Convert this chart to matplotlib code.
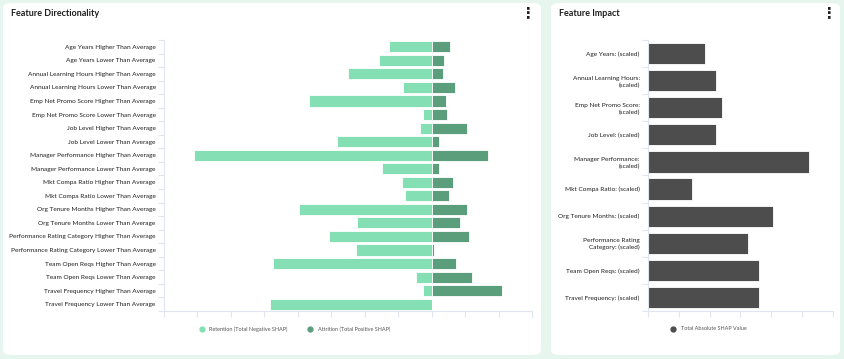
"""
Feature Directionality / Feature Impact dashboard cards.
"""

import matplotlib
matplotlib.use("Agg")
import matplotlib.pyplot as plt
import numpy as np
from matplotlib.lines import Line2D
from matplotlib.patches import FancyBboxPatch

plt.rcParams["font.family"] = ["Lato", "DejaVu Sans"]

# Left card: per-direction SHAP totals
DIR_LABELS = [
    "Age Years Higher Than Average",
    "Age Years Lower Than Average",
    "Annual Learning Hours Higher Than Average",
    "Annual Learning Hours Lower Than Average",
    "Emp Net Promo Score Higher Than Average",
    "Emp Net Promo Score Lower Than Average",
    "Job Level Higher Than Average",
    "Job Level Lower Than Average",
    "Manager Performance Higher Than Average",
    "Manager Performance Lower Than Average",
    "Mkt Compa Ratio Higher Than Average",
    "Mkt Compa Ratio Lower Than Average",
    "Org Tenure Months Higher Than Average",
    "Org Tenure Months Lower Than Average",
    "Performance Rating Category Higher Than Average",
    "Performance Rating Category Lower Than Average",
    "Team Open Reqs Higher Than Average",
    "Team Open Reqs Lower Than Average",
    "Travel Frequency Higher Than Average",
    "Travel Frequency Lower Than Average",
]
RETENTION = [-1.26, -1.57, -2.51, -0.85, -3.68, -0.25, -0.34, -2.83, -7.09, -1.47,
             -0.88, -0.81, -3.95, -2.23, -3.07, -2.25, -4.75, -0.47, -0.25, -4.82]
ATTRITION = [0.54, 0.36, 0.33, 0.70, 0.42, 0.47, 1.07, 0.21, 1.68, 0.21,
             0.64, 0.52, 1.06, 0.86, 1.13, 0.07, 0.74, 1.21, 2.10, 0.02]

# Right card: total absolute SHAP per feature
IMPACT_LABELS = [
    "Age Years: (scaled)",
    "Annual Learning Hours:\n(scaled)",
    "Emp Net Promo Score:\n(scaled)",
    "Job Level: (scaled)",
    "Manager Performance:\n(scaled)",
    "Mkt Compa Ratio: (scaled)",
    "Org Tenure Months: (scaled)",
    "Performance Rating\nCategory: (scaled)",
    "Team Open Reqs: (scaled)",
    "Travel Frequency: (scaled)",
]
IMPACT = [1.86, 2.20, 2.41, 2.22, 5.22, 1.43, 4.04, 3.25, 3.59, 3.59]

BG = "#E6F6EF"
AXIS_C = "#E1E5F2"
TEXT_C = "#1F1F1F"
RET_C = "#84E0B4"
ATT_C = "#5A9E7C"
IMP_C = "#4D4D4D"

W, H = 845, 359


def px_box(x0, y0, x1, y1):
    # pixel box (top-left origin) -> figure fraction [l, b, w, h]
    return [x0 / W, (H - y1) / H, (x1 - x0) / W, (y1 - y0) / H]


def style_axis(ax, n):
    ax.set_ylim(n - 0.5, -0.5)
    ax.set_facecolor("none")
    for side in ("top", "right"):
        ax.spines[side].set_visible(False)
    for side in ("left", "bottom"):
        ax.spines[side].set_color(AXIS_C)
        ax.spines[side].set_linewidth(0.8)
    ax.set_yticks(np.arange(n))
    ax.set_yticks(np.arange(-0.5, n, 1), minor=True)
    ax.tick_params(axis="y", which="major", length=0, pad=6, labelsize=4.65, labelcolor=TEXT_C)
    ax.tick_params(axis="y", which="minor", length=4, color=AXIS_C, width=0.8)
    ax.tick_params(axis="x", length=4, color=AXIS_C, width=0.8, labelbottom=False)


def card(fig, x0, y0, x1, y1, title, title_x, dots_x):
    l, b, w, h = px_box(x0, y0, x1, y1)
    fig.patches.append(FancyBboxPatch((l, b), w, h, boxstyle="round,pad=0,rounding_size=0.012",
                                      transform=fig.transFigure, facecolor="white",
                                      edgecolor="none", zorder=-5))
    fig.text(title_x / W, 1 - 13 / H, title, fontsize=6.5, fontweight="bold",
             color=TEXT_C, va="center", ha="left")
    fig.text(dots_x / W, 1 - 12.5 / H, "\u22EE", fontsize=10.5, fontweight="bold",
             color=TEXT_C, va="center", ha="center", family="DejaVu Sans")


def main() -> None:
    fig = plt.figure(figsize=(W / 100, H / 100), dpi=100)
    fig.patch.set_facecolor(BG)

    card(fig, 3, 3, 541, 355, "Feature Directionality", 11, 528)
    card(fig, 551, 3, 840, 355, "Feature Impact", 559, 829)

    # Left: diverging bars
    ax = fig.add_axes(px_box(164, 40, 532, 311))
    y = np.arange(len(DIR_LABELS))
    ax.barh(y, RETENTION, height=0.82, color=RET_C, edgecolor="white", linewidth=0.6)
    ax.barh(y, ATTRITION, height=0.82, color=ATT_C, edgecolor="white", linewidth=0.6)
    ax.set_xlim(-8, 3)
    ax.set_xticks(np.arange(-8, 4, 1))
    ax.set_yticklabels(DIR_LABELS)
    style_axis(ax, len(DIR_LABELS))

    handles = [
        Line2D([], [], marker="o", ls="", color=RET_C, markersize=3.5, label="Retention (Total Negative SHAP)"),
        Line2D([], [], marker="o", ls="", color=ATT_C, markersize=3.5, label="Attrition (Total Positive SHAP)"),
    ]
    fig.legend(handles=handles, loc="center", bbox_to_anchor=(293 / W, 1 - 329 / H), ncol=2,
               frameon=False, fontsize=4.0, handletextpad=0.4, columnspacing=3.0,
               labelcolor="#555555")

    # Right: total impact bars
    ax2 = fig.add_axes(px_box(648, 40, 833, 311))
    y2 = np.arange(len(IMPACT_LABELS))
    ax2.barh(y2, IMPACT, height=0.78, color=IMP_C, edgecolor="white", linewidth=0.6)
    ax2.set_xlim(0, 6)
    ax2.set_xticks(np.arange(0, 7, 1))
    ax2.set_yticklabels(IMPACT_LABELS, linespacing=1.3)
    style_axis(ax2, len(IMPACT_LABELS))

    fig.legend(handles=[Line2D([], [], marker="o", ls="", color=IMP_C, markersize=3.5,
                               label="Total Absolute SHAP Value")],
               loc="center", bbox_to_anchor=(707 / W, 1 - 329 / H), frameon=False,
               fontsize=4.0, handletextpad=0.4, labelcolor="#555555")

    fig.savefig("out.png", dpi=100, facecolor=BG)
    plt.close(fig)


if __name__ == "__main__":
    main()
